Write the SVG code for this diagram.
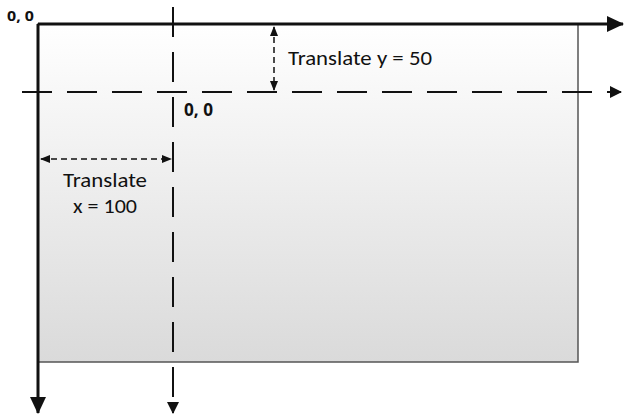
<svg xmlns="http://www.w3.org/2000/svg" width="625" height="414" viewBox="0 0 625 414">
<defs>
<linearGradient id="bg" x1="0" y1="0" x2="0" y2="1">
<stop offset="0" stop-color="#ffffff"/>
<stop offset="1" stop-color="#dadada"/>
</linearGradient>
<marker id="med" markerWidth="12" markerHeight="12" refX="11" refY="6" orient="auto" markerUnits="userSpaceOnUse" viewBox="0 0 12 12">
<path d="M0,0 L12,6 L0,12 Z" fill="#111"/>
</marker>
<marker id="big2" markerWidth="17" markerHeight="16" refX="16" refY="8" orient="auto" markerUnits="userSpaceOnUse" viewBox="0 0 17 16">
<path d="M0,0 L17,8 L0,16 Z" fill="#111"/>
</marker>
<marker id="sm" markerWidth="10" markerHeight="10" refX="9" refY="5" orient="auto-start-reverse" markerUnits="userSpaceOnUse" viewBox="0 0 10 10">
<path d="M0,1 L10,5 L0,9 Z" fill="#111"/>
</marker>
<style>
.lbl{font-family:Calibri,Carlito,Lato,"Liberation Sans",sans-serif;fill:#111}
.org{font-family:"Open Sans","Liberation Sans",sans-serif;font-weight:bold;fill:#111}
.ax{stroke:#111;stroke-width:3;fill:none}
.dash{stroke:#111;stroke-width:2;fill:none;stroke-dasharray:30 15}
.sdash{stroke:#111;stroke-width:1.5;fill:none;stroke-dasharray:6 4}
</style>
</defs>
<g id="canvas">
<rect x="38" y="24" width="540" height="338" fill="url(#bg)" stroke="#555" stroke-width="1.5"/>
</g>
<g id="connectors">
<line class="ax" x1="38" y1="24" x2="623" y2="24" marker-end="url(#big2)"/>
<line class="ax" x1="38" y1="24" x2="38" y2="413" marker-end="url(#big2)"/>
<line class="dash" x1="22" y1="92" x2="621" y2="92" marker-end="url(#med)"/>
<line class="dash" x1="173" y1="7" x2="173" y2="413" marker-end="url(#med)"/>
<line class="sdash" x1="41" y1="159" x2="171" y2="159" marker-start="url(#sm)" marker-end="url(#sm)"/>
<line class="sdash" x1="274" y1="27" x2="274" y2="90" marker-start="url(#sm)" marker-end="url(#sm)"/>
</g>
<g id="labels">
<text class="org" x="7" y="21" font-size="14" textLength="27" lengthAdjust="spacingAndGlyphs">0, 0</text>
<text class="org" x="184" y="116" font-size="17" textLength="29" lengthAdjust="spacingAndGlyphs">0, 0</text>
<text class="lbl" x="288" y="65" font-size="21" textLength="144" lengthAdjust="spacingAndGlyphs">Translate y = 50</text>
<text class="lbl" x="63" y="187" font-size="21" textLength="84" lengthAdjust="spacingAndGlyphs">Translate</text>
<text class="lbl" x="73" y="213" font-size="21" textLength="64" lengthAdjust="spacingAndGlyphs">x = 100</text>
</g>
</svg>
